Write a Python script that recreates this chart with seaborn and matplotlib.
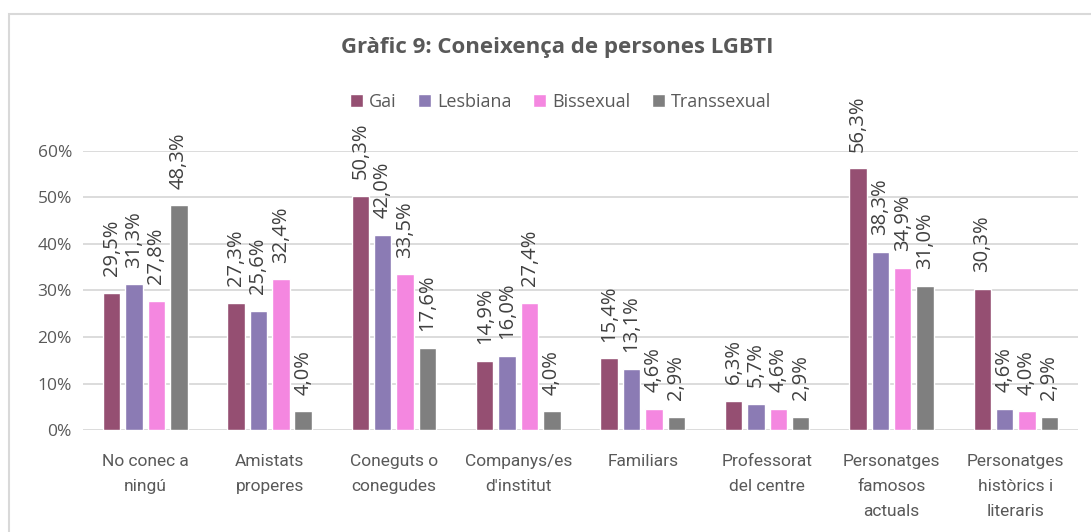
import pandas as pd
import seaborn as sns
import matplotlib.pyplot as plt
import matplotlib.patches as patches
import matplotlib.ticker as ticker

categories = ['No conec a\nningú', 'Amistats\nproperes', 'Coneguts o\nconegudes',
              'Companys/es\nd\'institut', 'Familiars', 'Professorat\ndel centre',
              'Personatges\nfamosos\nactuals', 'Personatges\nhistòrics i\nliteraris']
gai = [29.5, 27.3, 50.3, 14.9, 15.4, 6.3, 56.3, 30.3]
lesbiana = [31.3, 25.6, 42.0, 16.0, 13.1, 5.7, 38.3, 4.6]
bissexual = [27.8, 32.4, 33.5, 27.4, 4.6, 4.6, 34.9, 4.0]
transsexual = [48.3, 4.0, 17.6, 4.0, 2.9, 2.9, 31.0, 2.9]
series = ['Gai', 'Lesbiana', 'Bissexual', 'Transsexual']
colors = ['#954F72', '#8B7BB4', '#F487E0', '#7F7F7F']

rows = []
for name, vals in zip(series, [gai, lesbiana, bissexual, transsexual]):
    for cat, v in zip(categories, vals):
        rows.append({'cat': cat, 'grup': name, 'val': v / 100})
df = pd.DataFrame(rows)

sns.set_style('white')
plt.rcParams['font.family'] = ['Open Sans', 'DejaVu Sans']

fig = plt.figure(figsize=(10.91, 5.32), dpi=100)
ax = fig.add_axes([0.0761, 0.1917, 0.912, 0.5245])

sns.barplot(data=df, x='cat', y='val', hue='grup', palette=colors, order=categories,
            hue_order=series, width=0.72, gap=0.22, saturation=1, ax=ax, legend=True)

ax.set_ylim(0, 0.6)
ax.yaxis.set_major_locator(ticker.MultipleLocator(0.1))
ax.yaxis.set_major_formatter(ticker.FuncFormatter(lambda v, p: f'{v*100:.0f}%'))
ax.grid(axis='y', color='#D9D9D9', linewidth=1.3)
ax.set_axisbelow(True)
for s in ax.spines.values():
    s.set_visible(False)
ax.set_xlabel('')
ax.set_ylabel('')
ax.tick_params(axis='y', colors='#595959', labelsize=12.5, length=0, pad=8)
ax.tick_params(axis='x', colors='#595959', labelsize=11, length=0, pad=17)
for lbl in ax.get_xticklabels():
    lbl.set_family(['Roboto', 'DejaVu Sans'])
    lbl.set_fontsize(12.5)
    lbl.set_linespacing(1.85)
    lbl.set_verticalalignment('top')

for cont in ax.containers:
    ax.bar_label(cont, labels=[f'{b.get_height()*100:.1f}%'.replace('.', ',') for b in cont],
                 rotation=90, padding=12, color='#404040', fontsize=14.5, clip_on=False)

leg = ax.legend(loc='center', ncol=4, frameon=False,
                handlelength=0.7, handleheight=0.7, handletextpad=0.35, columnspacing=1.2,
                fontsize=13)
leg.set_bbox_to_anchor((0.514, 1 - 102 / 532), transform=fig.transFigure)
for t in leg.get_texts():
    t.set_color('#595959')

fig.text(0.511, 1 - 47 / 532, 'Gràfic 9: Coneixença de persones LGBTI', ha='center', va='center',
         fontsize=16, fontweight='bold', color='#595959')

fig.patches.append(patches.Rectangle((9 / 1091, -0.1), 1.2, 1 - 14 / 532 + 0.1,
                                     transform=fig.transFigure, fill=False,
                                     edgecolor='#D9D9D9', linewidth=1.5))

fig.savefig('out.png', dpi=100)
